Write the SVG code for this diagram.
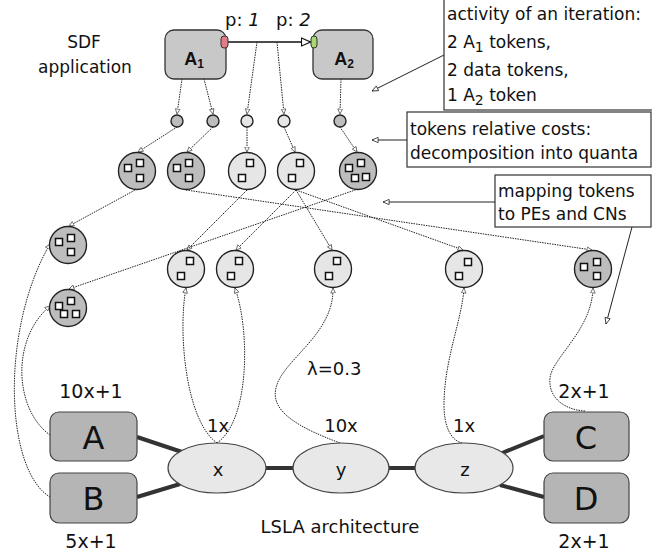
<svg xmlns="http://www.w3.org/2000/svg" xmlns:xlink="http://www.w3.org/1999/xlink" width="652" height="557" viewBox="0 0 652 557">
<style>
text { font-family: "DejaVu Sans", "Liberation Sans", sans-serif; fill: #111; }
.t18 { font-size: 18px; }
.t19 { font-size: 19px; }
.t17 { font-size: 17px; }
.mid { text-anchor: middle; }
.big { font-size: 32px; text-anchor: middle; }
.act { fill: #c8c8c8; stroke: #333; stroke-width: 1.3; }
.bl { font-family: "Liberation Sans", sans-serif; font-weight: bold; font-size: 18px; text-anchor: middle; }
.tokd { fill: #bdbdbd; stroke: #222; stroke-width: 1.4; }
.tokl { fill: #e6e6e6; stroke: #222; stroke-width: 1.4; }
.q { fill: #fff; stroke: #111; stroke-width: 1.5; }
.pe { fill: #b5b5b5; stroke: #444; stroke-width: 1.2; }
.cn { fill: #e8e8e8; stroke: #444; stroke-width: 1.2; }
.link { stroke: #333; stroke-width: 4; }
.dot { fill: none; stroke: #222; stroke-width: 1; stroke-dasharray: 1.5 1; marker-end: url(#ah); }
.note { fill: #fff; stroke: #333; stroke-width: 1.2; }
.lead { fill: none; stroke: #222; stroke-width: 1; marker-end: url(#open); }
</style>
<defs>
<marker id="ah" viewBox="0 0 6 6" refX="5.5" refY="3" markerWidth="6" markerHeight="6" markerUnits="userSpaceOnUse" orient="auto">
<path d="M0.5,0.7 L5.5,3 L0.5,5.3 z" fill="#fff" stroke="#555" stroke-width="0.8"/>
</marker>
<marker id="open" viewBox="0 0 8 8" refX="7.5" refY="4" markerWidth="7" markerHeight="7" markerUnits="userSpaceOnUse" orient="auto">
<path d="M0.5,1 L7.5,4 L0.5,7 z" fill="#fff" stroke="#222" stroke-width="0.9"/>
</marker>
<marker id="tri" viewBox="0 0 10 10" refX="10" refY="5" markerWidth="10" markerHeight="10" markerUnits="userSpaceOnUse" orient="auto">
<path d="M0.5,1 L9.5,5 L0.5,9 z" fill="#fff" stroke="#111" stroke-width="1.1"/>
</marker>
<rect id="q" x="-3.5" y="-3.5" width="7" height="7"/>
</defs>

<!-- SDF application -->
<text class="t17 mid" x="84" y="48">SDF</text>
<text class="t17 mid" x="85" y="73">application</text>
<text class="t18" x="225" y="26">p: <tspan font-style="italic">1</tspan></text>
<text class="t18" x="276" y="26">p: <tspan font-style="italic">2</tspan></text>

<g id="connectors">
<line x1="228" y1="42" x2="311" y2="42" stroke="#111" stroke-width="1.3" marker-end="url(#tri)"/>
<!-- actors/edge to token instances -->
<line class="dot" x1="182" y1="79" x2="177" y2="114"/>
<line class="dot" x1="204" y1="79" x2="213" y2="114"/>
<line class="dot" x1="257" y1="42" x2="247" y2="114"/>
<line class="dot" x1="277" y1="42" x2="284" y2="114"/>
<line class="dot" x1="341" y1="79" x2="340" y2="114"/>
<!-- tokens to quanta -->
<line class="dot" x1="177" y1="127" x2="138" y2="152"/>
<line class="dot" x1="213" y1="127" x2="187" y2="152"/>
<line class="dot" x1="247" y1="127" x2="247" y2="152"/>
<line class="dot" x1="284" y1="127" x2="295" y2="152"/>
<line class="dot" x1="340" y1="127" x2="357" y2="152"/>
<!-- mapping -->
<line class="dot" x1="137" y1="189" x2="69" y2="226"/>
<line class="dot" x1="186" y1="190" x2="592" y2="250"/>
<line class="dot" x1="247" y1="190" x2="187" y2="250"/>
<line class="dot" x1="296" y1="190" x2="236" y2="250"/>
<line class="dot" x1="296" y1="190" x2="332" y2="250"/>
<line class="dot" x1="296" y1="190" x2="463" y2="250"/>
<line class="dot" x1="358" y1="189" x2="69" y2="289"/>
<!-- architecture to mapped quanta -->
<path class="dot" d="M50,435 C15,410 10,340 50,306"/>
<path class="dot" d="M50,497 C5,470 0,330 50,244"/>
<path class="dot" d="M217,443 C185,420 178,330 186,288"/>
<path class="dot" d="M217,443 C250,420 250,330 235,288"/>
<path class="dot" d="M340,443 C300,428 270,412 276,388 C282,360 334,335 333,288"/>
<path class="dot" d="M462,443 C450,440 444,425 444,405 C444,360 462,320 464,288"/>
<path class="dot" d="M585,411 C565,410 548,398 550,378 C552,358 592,330 593,288"/>
<!-- architecture links -->
<line class="link" x1="137" y1="437" x2="182" y2="452"/>
<line class="link" x1="137" y1="497" x2="180" y2="484"/>
<line class="link" x1="266" y1="468" x2="293" y2="468"/>
<line class="link" x1="389" y1="468" x2="415" y2="468"/>
<line class="link" x1="502" y1="453" x2="544" y2="436"/>
<line class="link" x1="500" y1="485" x2="544" y2="497"/>
<!-- annotation leaders -->
<line class="lead" x1="444" y1="55" x2="372" y2="91"/>
<line class="lead" x1="407" y1="140" x2="372" y2="140"/>
<line class="lead" x1="495" y1="202" x2="383" y2="202"/>
<line class="lead" x1="632" y1="227" x2="606" y2="324"/>
</g>

<g id="A1">
<rect class="act" x="165" y="30" width="61" height="49" rx="9"/>
<rect x="221" y="36" width="7" height="12" rx="3" fill="#e07c86" stroke="#333" stroke-width="1"/>
<text class="bl" x="194" y="65">A<tspan font-size="12" dy="3">1</tspan></text>
</g>
<g id="A2">
<rect class="act" x="313" y="30" width="60" height="49" rx="9"/>
<rect x="311" y="36" width="6" height="12" rx="3" fill="#a6d86e" stroke="#333" stroke-width="1"/>
<text class="bl" x="344" y="65">A<tspan font-size="12" dy="3">2</tspan></text>
</g>

<!-- token instances -->
<g id="t1"><circle class="tokd" cx="177" cy="121" r="6"/></g>
<g id="t2"><circle class="tokd" cx="213" cy="121" r="6"/></g>
<g id="t3"><circle class="tokl" cx="247" cy="121" r="6"/></g>
<g id="t4"><circle class="tokl" cx="284" cy="121" r="6"/></g>
<g id="t5"><circle class="tokd" cx="340" cy="121" r="6"/></g>

<!-- quanta decomposition -->
<g id="q1" transform="translate(137,171)"><circle class="tokd" r="18.5"/><use href="#q" class="q" x="-9" y="-3"/><use href="#q" class="q" x="3" y="-8"/><use href="#q" class="q" x="3" y="7"/></g>
<g id="q2" transform="translate(186,171)"><circle class="tokd" r="18.5"/><use href="#q" class="q" x="-9" y="-3"/><use href="#q" class="q" x="3" y="-8"/><use href="#q" class="q" x="3" y="7"/></g>
<g id="q3" transform="translate(247,171)"><circle class="tokl" r="18.5"/><use href="#q" class="q" x="3" y="-8"/><use href="#q" class="q" x="-5" y="7"/></g>
<g id="q4" transform="translate(296,171)"><circle class="tokl" r="18.5"/><use href="#q" class="q" x="4" y="-8"/><use href="#q" class="q" x="-4" y="7"/></g>
<g id="q5" transform="translate(358,171)"><circle class="tokd" r="18.5"/><use href="#q" class="q" x="-9" y="-3"/><use href="#q" class="q" x="3" y="-8"/><use href="#q" class="q" x="-3" y="7"/><use href="#q" class="q" x="8" y="6"/></g>

<!-- mapped quanta -->
<g id="m1" transform="translate(68,245)"><circle class="tokd" r="18.5"/><use href="#q" class="q" x="-9" y="-3"/><use href="#q" class="q" x="3" y="-7"/><use href="#q" class="q" x="3" y="7"/></g>
<g id="m2" transform="translate(68,308)"><circle class="tokd" r="18.5"/><use href="#q" class="q" x="-9" y="-2"/><use href="#q" class="q" x="3" y="-7"/><use href="#q" class="q" x="-4" y="6"/><use href="#q" class="q" x="8" y="6"/></g>
<g id="m3" transform="translate(186,269)"><circle class="tokl" r="18.5"/><use href="#q" class="q" x="4" y="-8"/><use href="#q" class="q" x="-5" y="7"/></g>
<g id="m4" transform="translate(235,269)"><circle class="tokl" r="18.5"/><use href="#q" class="q" x="4" y="-8"/><use href="#q" class="q" x="-4" y="7"/></g>
<g id="m5" transform="translate(333,269)"><circle class="tokl" r="18.5"/><use href="#q" class="q" x="4" y="-8"/><use href="#q" class="q" x="-4" y="7"/></g>
<g id="m6" transform="translate(464,269)"><circle class="tokl" r="18.5"/><use href="#q" class="q" x="4" y="-7"/><use href="#q" class="q" x="-5" y="7"/></g>
<g id="m7" transform="translate(593,269)"><circle class="tokd" r="18.5"/><use href="#q" class="q" x="-9" y="-2"/><use href="#q" class="q" x="4" y="-7"/><use href="#q" class="q" x="4" y="7"/></g>

<!-- LSLA architecture -->
<g id="PE-A"><rect class="pe" x="50" y="412" width="87" height="49" rx="9"/><text class="big" x="93.5" y="449">A</text><text class="t19 mid" x="91" y="398">10x+1</text></g>
<g id="PE-B"><rect class="pe" x="50" y="473" width="87" height="50" rx="9"/><text class="big" x="93.5" y="510">B</text><text class="t19 mid" x="91" y="548">5x+1</text></g>
<g id="PE-C"><rect class="pe" x="544" y="412" width="85" height="49" rx="9"/><text class="big" x="586" y="449">C</text><text class="t19 mid" x="584" y="398">2x+1</text></g>
<g id="PE-D"><rect class="pe" x="544" y="473" width="85" height="50" rx="9"/><text class="big" x="586" y="510">D</text><text class="t19 mid" x="584" y="548">2x+1</text></g>
<g id="CN-x"><ellipse class="cn" cx="217" cy="468" rx="49" ry="25"/><text class="t18 mid" x="218" y="476">x</text><text class="t18 mid" x="218" y="432">1x</text></g>
<g id="CN-y"><ellipse class="cn" cx="341" cy="468" rx="48" ry="25"/><text class="t18 mid" x="341" y="476">y</text><text class="t18 mid" x="341" y="432">10x</text><text class="t18" x="307" y="375">λ=0.3</text></g>
<g id="CN-z"><ellipse class="cn" cx="464" cy="468" rx="49" ry="25"/><text class="t18 mid" x="465" y="476">z</text><text class="t18 mid" x="464" y="432">1x</text></g>
<text class="t18 mid" x="340" y="533">LSLA architecture</text>

<!-- annotations -->
<g id="note-activity">
<rect class="note" x="444" y="-1" width="212" height="111"/>
<text class="t17" x="447" y="19.5">activity of an iteration:</text>
<text class="t17" x="447" y="48">2 A<tspan font-size="14" dy="4">1</tspan><tspan dy="-4"> tokens,</tspan></text>
<text class="t17" x="447" y="76">2 data tokens,</text>
<text class="t17" x="447" y="101">1 A<tspan font-size="14" dy="4">2</tspan><tspan dy="-4"> token</tspan></text>
</g>
<g id="note-costs">
<rect class="note" x="407" y="112" width="244" height="55"/>
<text class="t17" x="410" y="135">tokens relative costs:</text>
<text class="t17" x="410" y="159">decomposition into quanta</text>
</g>
<g id="note-mapping">
<rect class="note" x="495" y="175" width="156" height="52"/>
<text class="t17" x="498" y="197">mapping tokens</text>
<text class="t17" x="498" y="220">to PEs and CNs</text>
</g>
</svg>
